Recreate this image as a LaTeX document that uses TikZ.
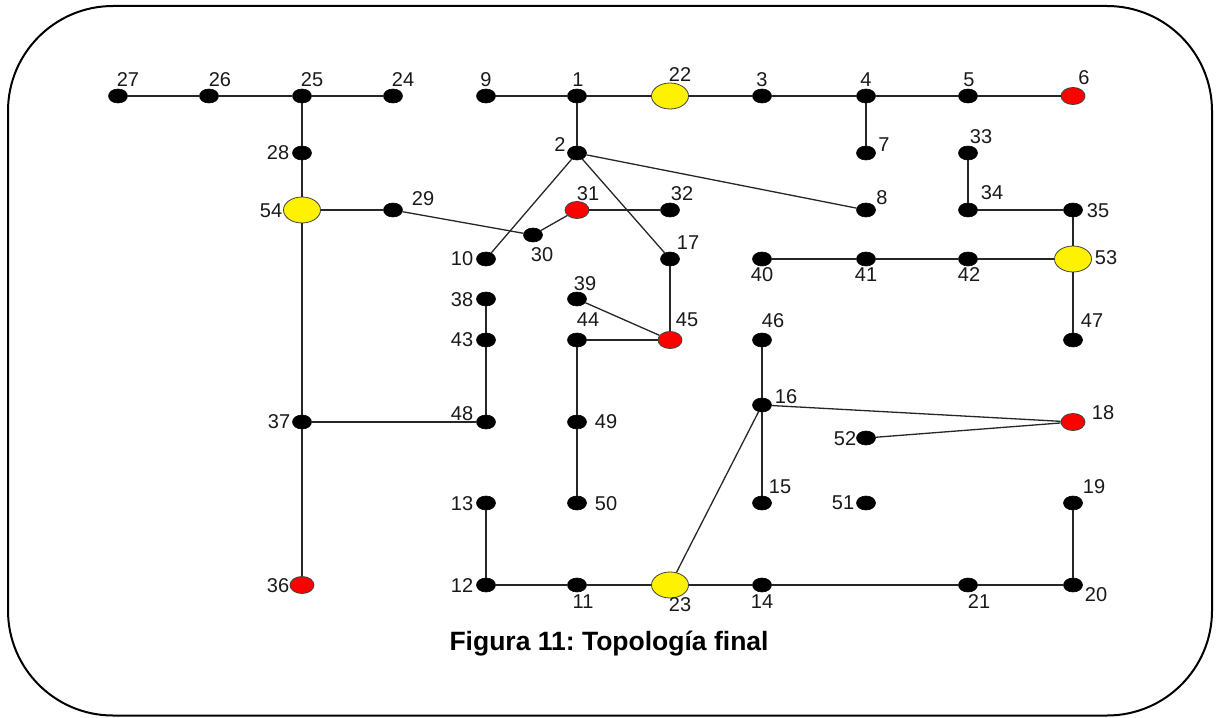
\documentclass[tikz,border=0pt]{standalone}
\usepackage{fontspec}
\setmainfont{Liberation Sans}
\usetikzlibrary{shapes.geometric}
\begin{document}
\frenchspacing
\begin{tikzpicture}[x=1pt,y=-1pt,
  bus/.style={ellipse,draw=black,fill=black,line width=0.6pt,minimum width=19pt,minimum height=14pt,inner sep=0pt},
  gen/.style={ellipse,draw=black!75,fill=yellow,line width=0.8pt,minimum width=37pt,minimum height=26pt,inner sep=0pt},
  load/.style={ellipse,draw=black!75,fill=red,line width=0.8pt,minimum width=24pt,minimum height=17pt,inner sep=0pt},
  lbl/.style={font=\fontsize{20}{21}\selectfont,text=black!90,inner sep=0pt},
  link/.style={draw=black!85,line width=1.3pt},
  frame/.style={draw=black,line width=2pt,rounded corners=105pt}]
\useasboundingbox (0,0) rectangle (1217,717);
\draw[frame] (8,6) rectangle (1212,715.5);

% ordinary buses
\foreach \n/\x/\y in {27/118/96,26/209/96,25/302/96,24/393/96,9/486/96,1/577/96,3/762/96,4/866/96,5/968/96,
  28/302/153,7/866/153,33/968/153,2/577/153,
  29/393/210,32/670/210,8/866/210,34/968/210,35/1073/210,30/533/235,
  10/486/259,17/670/259,40/762/259,41/866/259,42/968/259,
  38/486/299,39/577/299,43/486/340,44/577/340,46/762/340,47/1073/340,
  16/762/405,37/302/422,48/486/422,49/577/422,52/866/438,
  13/486/503,50/577/503,15/762/503,51/866/503,19/1073/503,
  12/486/585,11/577/585,14/762/585,21/968/585,20/1073/585}
  \node[bus] (n\n) at (\x,\y) {};
% generator buses
\foreach \n/\x/\y in {22/670/96,54/302/210,53/1073/259,23/670/585}
  \node[gen] (n\n) at (\x,\y) {};
% load buses
\foreach \n/\x/\y in {6/1073/96,31/577/210,45/670/340,18/1073/422,36/302/585}
  \node[load] (n\n) at (\x,\y) {};

% lines
\foreach \a/\b in {27/26,26/25,25/24,25/28,28/54,54/29,29/30,30/31,31/32,54/37,37/48,37/36,48/43,43/38,
  9/1,1/22,22/3,3/4,4/5,5/6,4/7,1/2,2/8,2/10,2/17,17/45,45/44,45/39,44/49,49/50,
  33/34,34/35,35/53,53/42,42/41,41/40,53/47,
  46/16,16/15,16/18,18/52,16/23,
  13/12,12/11,11/23,23/14,14/21,21/20,20/19}
  \draw[link] (n\a) -- (n\b);

% bus numbers
\foreach \n/\x/\y in {27/128/80,26/220/80,25/312/80,24/403/80,9/486/80,1/578/80,22/680/75,3/762/80,4/866/80,5/969/80,6/1084/78,
  28/278/153,7/884/145,33/981/137,2/560/145,
  54/271/211,29/423/199,31/588/194,32/682/194,8/882/198,34/992/193,35/1098/211,
  30/542/255,10/462/259,17/688/243,40/762/275,41/866/275,42/969/275,53/1106/258,
  38/462/300,39/585/284,43/462/340,44/588/320,45/687/320,46/773/321,47/1092/321,
  16/786/397,37/279/422,48/462/414,49/606/422,18/1103/413,52/845/439,
  13/462/504,50/606/504,15/780/487,51/843/503,19/1094/487,
  36/278/586,12/462/586,11/583/602,23/680/605,14/762/602,21/979/602,20/1096/595}
  \node[lbl] (t\n) at (\x,\y) {\n};

\node[font=\bfseries\fontsize{26.5}{28}\selectfont,anchor=base,inner sep=0pt] (caption) at (609,650) {Figura 11: Topología final};
\end{tikzpicture}
\end{document}
